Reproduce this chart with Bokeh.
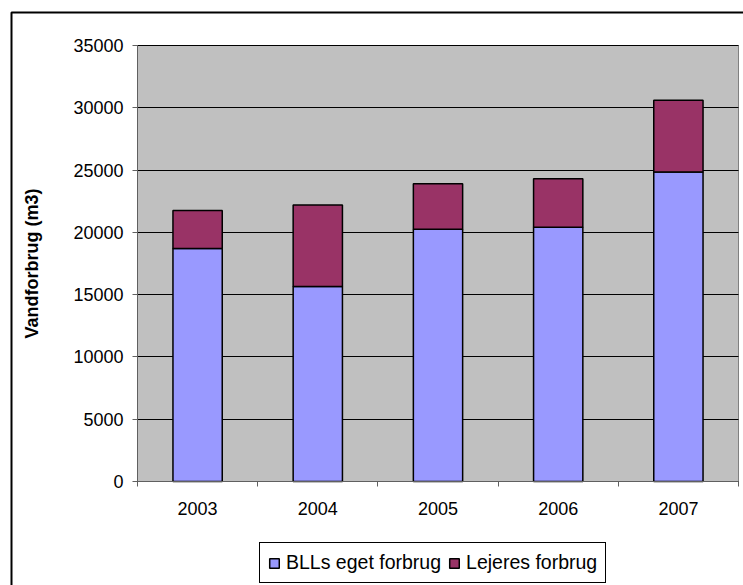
from bokeh.plotting import figure
from bokeh.models import (FixedTicker, Legend, LegendItem, Range1d, ColumnDataSource,
                          BoxAnnotation, Grid)
from bokeh.embed import file_html
from bokeh.resources import INLINE

# Water consumption per year (m3)
years = ["2003", "2004", "2005", "2006", "2007"]
bll_own = [18700, 15650, 20250, 20400, 24850]
tenants = [3050, 6550, 3650, 3900, 5750]

xpos = [i + 1 for i in range(len(years))]
source = ColumnDataSource(dict(x=xpos, bll=bll_own, ten=tenants))

FONT = "Liberation Sans"
Y_MAX = 35000
TICKS = list(range(0, Y_MAX + 1, 5000))
X_LO, X_HI = 0.5, len(years) + 0.5

W, H = 743, 585
# plot-area placement on the canvas (pixels)
PA_LEFT, PA_RIGHT, PA_TOP, PA_BOTTOM = 137, 738, 45, 481
px_per_x = (PA_RIGHT - PA_LEFT) / (X_HI - X_LO)
px_per_y = (PA_BOTTOM - PA_TOP) / Y_MAX

# the frame fills the whole canvas; axes sit at fixed data positions
x_range = Range1d(X_LO - PA_LEFT / px_per_x, X_HI + (W - PA_RIGHT) / px_per_x)
y_range = Range1d(-(H - PA_BOTTOM) / px_per_y, Y_MAX + PA_TOP / px_per_y)

p = figure(width=W, height=H, output_backend="svg", toolbar_location=None,
           x_range=x_range, y_range=y_range,
           min_border_left=0, min_border_right=0,
           min_border_top=0, min_border_bottom=0)
p.background_fill_color = "white"
p.border_fill_color = "white"
p.outline_line_color = None

# grey plot area
p.add_layout(BoxAnnotation(left=X_LO, right=X_HI, bottom=0, top=Y_MAX,
                           fill_color="#C0C0C0", fill_alpha=1,
                           line_color="#808080", line_alpha=1, line_width=1,
                           level="image"))

# horizontal grid lines across the plot area only
p.xgrid.visible = False
if "cross_bounds" in Grid.properties():
    p.ygrid.ticker = FixedTicker(ticks=TICKS)
    p.ygrid.bounds = (0, Y_MAX)
    p.ygrid.cross_bounds = (X_LO, X_HI)
    p.ygrid.grid_line_color = "black"
    p.ygrid.grid_line_width = 1
else:
    p.ygrid.visible = False
    p.segment(x0=[X_LO] * len(TICKS), x1=[X_HI] * len(TICKS), y0=TICKS, y1=TICKS,
              line_color="black", line_width=1)

stack = p.vbar_stack(["bll", "ten"], x="x", width=0.41, source=source,
                     fill_color=["#9999FF", "#993366"],
                     line_color="black", line_width=1.5)

# y axis
p.yaxis.fixed_location = X_LO
p.yaxis.bounds = (0, Y_MAX)
p.yaxis.ticker = FixedTicker(ticks=TICKS)
p.yaxis.axis_label = "Vandforbrug (m3)"
p.yaxis.axis_label_text_font = FONT
p.yaxis.axis_label_text_font_style = "bold"
p.yaxis.axis_label_text_font_size = "18px"
p.yaxis.axis_label_text_color = "black"
p.yaxis.axis_label_standoff = 28
p.yaxis.major_label_text_font = FONT
p.yaxis.major_label_text_font_size = "18px"
p.yaxis.major_label_text_color = "black"
p.yaxis.major_tick_in = 0
p.yaxis.major_tick_out = 5
p.yaxis.minor_tick_line_color = None
p.yaxis.axis_line_color = "#606060"
p.yaxis.major_tick_line_color = "#606060"
p.yaxis.major_label_standoff = 9

# x axis: labels at bar centres, tick marks between categories
p.xaxis.fixed_location = 0
p.xaxis.bounds = (X_LO, X_HI)
p.xaxis.ticker = FixedTicker(ticks=xpos, minor_ticks=[i + 0.5 for i in range(0, len(years) + 1)])
p.xaxis.major_label_overrides = {x: y for x, y in zip(xpos, years)}
p.xaxis.major_label_text_font = FONT
p.xaxis.major_label_text_font_size = "18px"
p.xaxis.major_label_text_color = "black"
p.xaxis.major_tick_in = 0
p.xaxis.major_tick_out = 0
p.xaxis.minor_tick_in = 0
p.xaxis.minor_tick_out = 5
p.xaxis.minor_tick_line_color = "#606060"
p.xaxis.axis_line_color = "#606060"
p.xaxis.major_label_standoff = 15

legend = Legend(items=[LegendItem(label="BLLs eget forbrug", renderers=[stack[0]]),
                       LegendItem(label="Lejeres forbrug", renderers=[stack[1]])],
                orientation="horizontal", location=(259, 2))
legend.label_text_font = FONT
legend.label_text_font_size = "19.5px"
legend.label_text_color = "black"
legend.label_height = 22
legend.glyph_width = 12
legend.glyph_height = 12
legend.label_standoff = 6
legend.spacing = 7
legend.padding = 8
legend.margin = 0
legend.border_line_color = "black"
legend.border_line_width = 1
legend.border_line_alpha = 1
legend.background_fill_color = "white"
legend.background_fill_alpha = 1
p.add_layout(legend, "center")

# chart-area border; its right and bottom edges run off the canvas
p.add_layout(BoxAnnotation(left=11, right=W + 50, top=H - 12, bottom=-50,
                           left_units="screen", right_units="screen",
                           top_units="screen", bottom_units="screen",
                           fill_alpha=0, line_color="black", line_alpha=1,
                           line_width=2, level="overlay"))

open("out.html", "w").write(file_html(p, INLINE))
